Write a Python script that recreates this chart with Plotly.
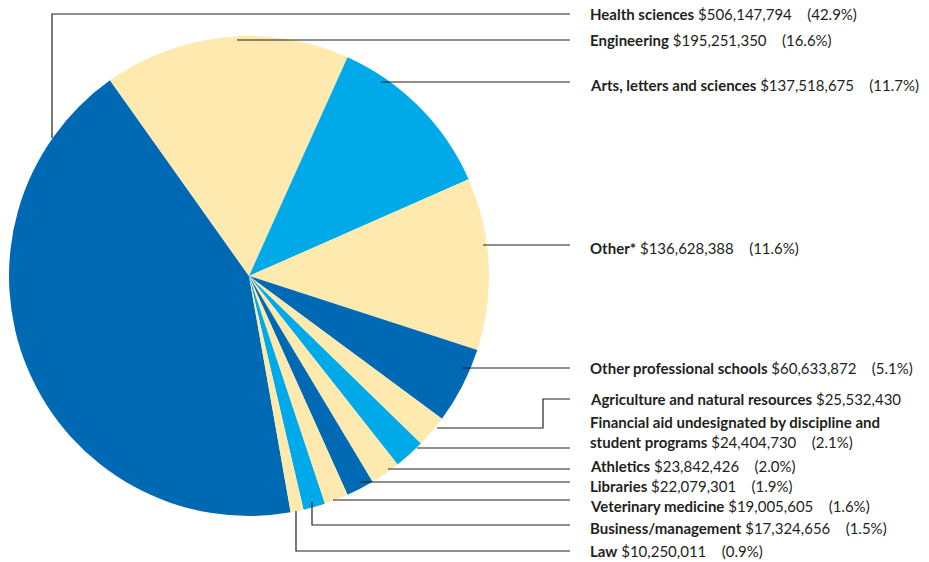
import plotly.graph_objects as go

W, H = 929, 562

categories = [
    "Health sciences", "Engineering", "Arts, letters and sciences", "Other*",
    "Other professional schools", "Agriculture and natural resources",
    "Financial aid undesignated by discipline and student programs",
    "Athletics", "Libraries", "Veterinary medicine", "Business/management", "Law",
]
values = [506147794, 195251350, 137518675, 136628388, 60633872, 25532430,
          24404730, 23842426, 22079301, 19005605, 17324656, 10250011]
percent_labels = ["42.9%", "16.6%", "11.7%", "11.6%", "5.1%", "", "2.1%",
                  "2.0%", "1.9%", "1.6%", "1.5%", "0.9%"]

DARK, YEL, CYAN = "#0069B4", "#FEE9AE", "#00A9E8"
colors = [DARK, YEL, CYAN, YEL, DARK, YEL, CYAN, YEL, DARK, YEL, CYAN, YEL]

# layout: label positions (pixel y of text centre) and leader paths (pixels)
label_y = [14, 40, 85, 248, 368, 399, 432, 466, 486, 506, 528, 551]
leaders = [
    [(52, 138), (52, 14), (570, 14)],
    [(237, 40), (570, 40)],
    [(381, 82), (570, 82)],
    [(483, 245), (570, 245)],
    [(462, 368), (570, 368)],
    [(437, 428), (543, 428), (543, 399), (570, 399)],
    [(417, 448), (570, 448)],
    [(388, 469), (570, 469)],
    [(360, 482), (570, 482)],
    [(333, 500), (570, 500)],
    [(312, 502), (312, 525), (570, 525)],
    [(296, 511), (296, 551), (570, 551)],
]

def px(x):
    return x / W

def py(y):
    return 1 - y / H

fig = go.Figure(go.Pie(
    labels=categories, values=values, sort=False, direction="clockwise",
    rotation=170, marker=dict(colors=colors, line=dict(width=0)),
    textinfo="none", showlegend=False,
    domain=dict(x=[px(9), px(489)], y=[py(516), py(36)]),
))

shapes = []
for pts in leaders:
    path = "M " + " L ".join(f"{px(x):.5f},{py(y):.5f}" for x, y in pts)
    shapes.append(dict(type="path", xref="paper", yref="paper", path=path,
                       line=dict(color="#231F20", width=1.2)))

NB = "\u00a0"
def money(v):
    return "$" + f"{v:,}"

annotations = []
for cat, v, p, y in zip(categories, values, percent_labels, label_y):
    if cat.startswith("Financial"):
        name = "<b>Financial aid undesignated by discipline and</b><br><b>student programs</b>"
    else:
        name = f"<b>{cat}</b>"
    txt = f"{name} {money(v)}"
    if p:
        txt += f"{NB}{NB}{NB} ({p})"
    annotations.append(dict(x=px(588), y=py(y), xref="paper", yref="paper",
                            text=txt, showarrow=False, xanchor="left",
                            yanchor="middle", align="left",
                            font=dict(family="Lato", size=15, color="#231F20")))

fig.update_layout(width=W, height=H, margin=dict(l=0, r=0, t=0, b=0),
                  paper_bgcolor="white", plot_bgcolor="white",
                  shapes=shapes, annotations=annotations)

fig.write_html("out.html", config={"displayModeBar": False},
               post_script="document.body.style.margin='0';")
